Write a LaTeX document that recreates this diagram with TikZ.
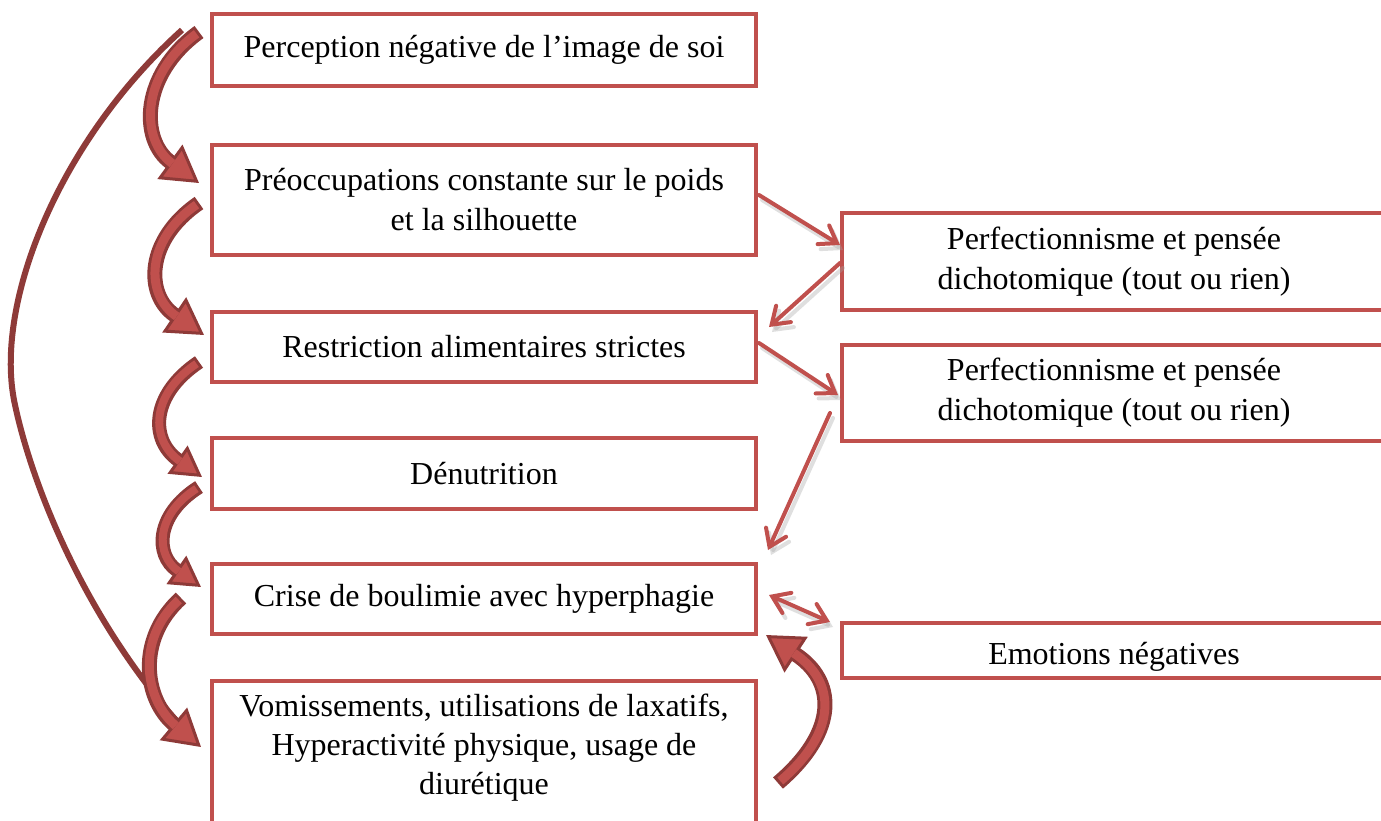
\documentclass[tikz,border=0pt]{standalone}
\usepackage{fontspec}
\setmainfont{Liberation Serif}
\usetikzlibrary{arrows.meta,calc}
\definecolor{boxred}{HTML}{C0504D}
\definecolor{dkred}{HTML}{8E3A38}
\newcommand\barrow[2][big]{\draw[#1 outer] #2; \draw[#1 inner] #2;}
\begin{document}
\begin{tikzpicture}[x=0.5pt,y=-0.5pt,
  box/.style={draw=boxred, line width=2pt, fill=white, minimum width=272pt,
    outer sep=0pt, inner sep=0pt, align=center,
    font=\fontsize{16}{20}\selectfont},
  txt/.style={align=center, inner sep=0pt, font=\fontsize{16}{19.5}\selectfont},
  big outer/.style={draw=dkred, line width=7.5pt,
    -{Triangle[length=18pt,width=21pt,line width=1.5pt,fill=boxred,color=dkred]}},
  big inner/.style={draw=boxred, line width=4.5pt, shorten >=16.5pt, shorten <=1.5pt},
  small outer/.style={draw=dkred, line width=7pt,
    -{Triangle[length=15pt,width=17pt,line width=1.5pt,fill=boxred,color=dkred]}},
  small inner/.style={draw=boxred, line width=4pt, shorten >=13.5pt, shorten <=1.5pt},
  sarr/.style={draw=boxred, line width=2pt, line cap=round},
  tipE/.style={-{Straight Barb[length=8pt,width=11pt,line cap=round]}},
  tipB/.style={{Straight Barb[length=8pt,width=11pt,line cap=round]}-{Straight Barb[length=8pt,width=11pt,line cap=round]}}
]
\clip (0,0) rectangle (1381,820);
\fill[white] (0,0) rectangle (1381,820);

% boxes (left column)
\node[box, minimum height=36pt]   (b1) at (484,50)    {Perception négative de l’image de soi};
\node[box, minimum height=55pt]   (b2) at (484,200)   {Préoccupations constante sur le poids\\et la silhouette};
\node[box, minimum height=35pt]   (b3) at (484,347)   {Restriction alimentaires strictes};
\node[box, minimum height=35.5pt] (b4) at (484,473.5) {Dénutrition};
\node[box, minimum height=35pt]   (b5) at (484,599)   {Crise de boulimie avec hyperphagie};
\node[box, minimum height=85pt]   (b6) at (484,766)   {};
\node[txt] (t6) at (484,748) {Vomissements, utilisations de laxatifs,\\Hyperactivité physique, usage de\\diurétique};

% boxes (right column)
\node[box, minimum height=48.5pt] (bA) at (1114,261.5) {Perfectionnisme et pensée\\dichotomique (tout ou rien)};
\node[box, minimum height=48pt]   (bB) at (1114,393)   {Perfectionnisme et pensée\\dichotomique (tout ou rien)};
\node[box, minimum height=27.5pt] (bC) at (1114,650.5) {};
\node[txt, anchor=base] (tC) at (1114,664) {Emotions négatives};

% long thin curve
\coordinate (fmid) at (14,400);
\draw[dkred, line width=3pt]
  ($(b1.west)+(-30,-20)$) .. controls (60,140) and (-5,300) .. (fmid)
  .. controls (30,480) and (85,625) .. ($(b6.north west)+(-18,59)$);

% curved block arrows
\barrow{($(b1.west)+(-13,-18)$) .. controls (140,75) and (140,140) .. ($(b2.west)+(-13,-17)$)}
\barrow{($(b2.west)+(-13,3)$) .. controls (145,240) and (145,295) .. ($(b3.west)+(-8,-12)$)}
\barrow[small]{($(b3.west)+(-13,15)$) .. controls (150,395) and (150,440) .. ($(b4.west)+(-10,3.5)$)}
\barrow[small]{($(b4.west)+(-13,13.5)$) .. controls (155,515) and (155,555) .. ($(b5.west)+(-11,-12)$)}
\barrow{($(b5.west)+(-31,-1)$) .. controls (135,640) and (145,700) .. ($(b6.north west)+(-11,66)$)}
\barrow{($(b6.north east)+(22,102)$) .. controls (840,730) and (835,680) .. ($(b5.south east)+(10,1)$)}

% straight arrows: shadow then arrow
\begin{scope}[transform canvas={shift={(1.5pt,-2.5pt)}}, sarr/.append style={draw=black!35, opacity=.35}]
\draw[sarr, tipE] ($(b2.east)+(3,-5)$) -- ($(bA.west)+(-2,-16.5)$);
\draw[sarr, tipE] ($(bA.west)+(-2,1.5)$) -- ($(b3.east)+(13,-20)$);
\draw[sarr, tipE] ($(b3.east)+(3,-4)$) -- ($(bB.west)+(-4,2)$);
\draw[sarr, tipE] ($(bB.west)+(-12,20)$) -- ($(b5.north east)+(12,-14)$);
\draw[sarr, tipB] ($(b5.east)+(13,-4)$) -- ($(bC.west)+(-12,-28.5)$);
\end{scope}
\draw[sarr, tipE] ($(b2.east)+(3,-5)$) -- ($(bA.west)+(-2,-16.5)$);
\draw[sarr, tipE] ($(bA.west)+(-2,1.5)$) -- ($(b3.east)+(13,-20)$);
\draw[sarr, tipE] ($(b3.east)+(3,-4)$) -- ($(bB.west)+(-4,2)$);
\draw[sarr, tipE] ($(bB.west)+(-12,20)$) -- ($(b5.north east)+(12,-14)$);
\draw[sarr, tipB] ($(b5.east)+(13,-4)$) -- ($(bC.west)+(-12,-28.5)$);
\end{tikzpicture}
\end{document}
